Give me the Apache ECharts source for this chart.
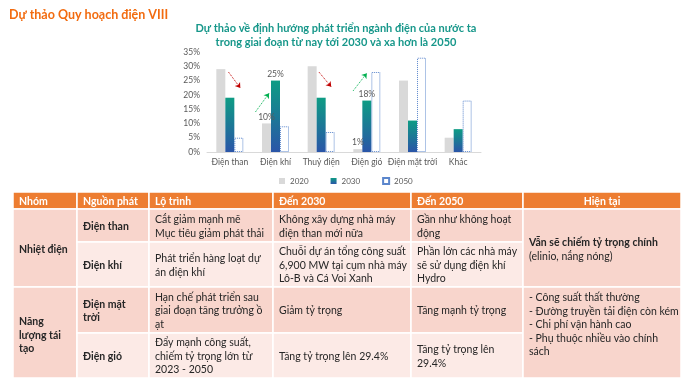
<!DOCTYPE html>
<html><head><meta charset="utf-8">
<script src="https://cdn.jsdelivr.net/npm/echarts@6/dist/echarts.min.js"></script>
<style>html,body{margin:0;padding:0;background:#fff}#c{width:689px;height:390px}</style>
</head><body><div id="c"></div>
<script>
// ---- chart data ----
const categories = ['Điện than', 'Điện khí', 'Thuỷ điện', 'Điện gió', 'Điện mặt trời', 'Khác'];
const s2020 = [29, 10, 30, 1, 25, 5];
const s2030 = [19, 25, 19, 18, 11, 8];
const s2050 = [5, 9, 7, 28, 33, 18];
const labelled2020 = [1, 3];
const labelled2030 = [1, 3];
const seriesNames = ['2020', '2030', '2050'];
// trend arrows in data units: [fromIndex, fromValue, toIndex, toValue]
const arrowsDown = [[-0.03, 28, 0.23, 22.4], [1.95, 28, 2.22, 22.8]];
const arrowsUp = [[0.56, 14, 0.86, 20.6], [2.70, 21.4, 3.00, 27.6]];

// ---- table data ----
const headers = ['Nhóm', 'Nguồn phát', 'Lộ trình', 'Đến 2030', 'Đến 2050', 'Hiện tại'];
const groups = ['Nhiệt điện', 'Năng\nlượng tái\ntạo'];
const sources = ['Điện than', 'Điện khí', 'Điện mặt\ntrời', 'Điện gió'];
const roadmap = ['Cắt giảm mạnh mẽ\nMục tiêu giảm phát thải', 'Phát triển hàng loạt dự\nán điện khí', 'Hạn chế phát triển sau\ngiai đoạn tăng trưởng ồ\nạt', 'Đẩy mạnh công suất,\nchiếm tỷ trọng lớn từ\n2023 - 2050'];
const to2030 = ['Không xây dựng nhà máy\nđiện than mới nữa', 'Chuỗi dự án tổng công suất\n6,900 MW tại cụm nhà máy\nLô-B và Cá Voi Xanh', 'Giảm tỷ trọng', 'Tăng tỷ trọng lên 29.4%'];
const to2050 = ['Gần như không hoạt\nđộng', 'Phần lớn các nhà máy\nsẽ sử dụng điện khí\nHydro', 'Tăng mạnh tỷ trọng', 'Tăng tỷ trọng lên\n29.4%'];
const currentBold = 'Vẫn sẽ chiếm tỷ trọng chính';
const currentNote = '(elinio, nắng nóng)';
const currentRenew = '- Công suất thất thường\n- Đường truyền tải điện còn kém\n- Chi phí vận hành cao\n- Phụ thuộc nhiều vào chính\nsách';

// ---- layout ----
const FONT = 'Lato, "Noto Sans", sans-serif';
const colW = [64, 72, 124, 138, 112, 158];
const rowH = [17, 33, 45, 46, 45];
const tableX = 13, tableY = 192;
const colX = [tableX]; colW.forEach(w => colX.push(colX[colX.length - 1] + w));
const rowY = [tableY]; rowH.forEach(h => rowY.push(rowY[rowY.length - 1] + h));
const C_HEAD = '#ED7D31', C_DARK = '#F8D5CC', C_LIGHT = '#FCEAE6', C_TEXT = '#262626';

const graphics = [];
function cell(r, c, rs, text, opt) {
  opt = opt || {};
  const x = colX[c], y = rowY[r], w = colW[c], h = rowY[r + rs] - y;
  graphics.push({ type: 'rect', shape: { x: x, y: y, width: w, height: h },
    style: { fill: opt.fill, stroke: '#fff', lineWidth: 1.5 }, z: 1 });
  const center = opt.align === 'center';
  const top = opt.vtop !== undefined;
  const st = {
    text: text, fill: opt.color || C_TEXT,
    fontSize: opt.size || 10.5, fontFamily: FONT, fontWeight: opt.bold ? 'bold' : 'normal',
    align: center ? 'center' : 'left', verticalAlign: top ? 'top' : 'middle', lineHeight: 13.5
  };
  if (opt.rich) st.rich = opt.rich;
  graphics.push({ type: 'text', x: center ? x + w / 2 : x + 6, y: top ? y + opt.vtop : y + h / 2 + (opt.dy || 1),
    style: st, z: 2 });
}
headers.forEach((t, i) => cell(0, i, 1, t, { fill: C_HEAD, color: '#fff', bold: true, align: i === 5 ? 'center' : 'left', dy: 0 }));
cell(1, 0, 2, groups[0], { fill: C_DARK, bold: true, dy: 2 });
cell(3, 0, 2, groups[1], { fill: C_DARK, bold: true, dy: 3 });
for (let r = 0; r < 4; r++) {
  const fill = r % 2 === 0 ? C_DARK : C_LIGHT;
  cell(r + 1, 1, 1, sources[r], { fill: fill, bold: true });
  cell(r + 1, 2, 1, roadmap[r], { fill: fill });
  cell(r + 1, 3, 1, to2030[r], { fill: fill });
  cell(r + 1, 4, 1, to2050[r], { fill: fill });
}
cell(1, 5, 2, '{b|' + currentBold + '}\n{n|' + currentNote + '}', { fill: C_DARK, dy: 2,
  rich: { b: { fontWeight: 'bold', fontSize: 10.5, fontFamily: FONT, fill: C_TEXT, lineHeight: 14 },
          n: { fontSize: 10.5, fontFamily: FONT, fill: C_TEXT, lineHeight: 14 } } });
cell(3, 5, 2, currentRenew, { fill: C_DARK, vtop: 4 });

const teal = new echarts.graphic.LinearGradient(0, 0, 0, 1, [
  { offset: 0, color: '#0E9C84' }, { offset: 1, color: '#2A55A8' }]);

function arrowData(list, color) {
  return list.map(a => ({ coords: [[a[0], a[1]], [a[2], a[3]]], lineStyle: { color: color } }));
}
const axisText = { fontSize: 8.5, color: '#595959', fontFamily: FONT };

const chart = echarts.init(document.getElementById('c'), null, { renderer: 'canvas' });
chart.setOption({
  animation: false,
  title: [
    { text: 'Dự thảo Quy hoạch điện VIII', left: 4, top: 3,
      textStyle: { fontSize: 12.5, fontWeight: 'bold', color: '#F26B0F', fontFamily: FONT } },
    { text: 'Dự thảo về định hướng phát triển ngành điện của nước ta\ntrong giai đoạn từ nay tới 2030 và xa hơn là 2050',
      left: 331, textAlign: 'center', top: 16,
      textStyle: { fontSize: 11, fontWeight: 'bold', color: '#17978A', fontFamily: FONT, lineHeight: 14 } }
  ],
  legend: {
    data: seriesNames, left: 279, top: 177, padding: 0, itemWidth: 6, itemHeight: 6, itemGap: 22,
    icon: 'rect', textStyle: { fontSize: 8, color: '#595959', fontFamily: FONT }
  },
  grid: { left: 207, right: 208, top: 52, bottom: 238, containLabel: false },
  xAxis: [
    { type: 'category', data: categories,
      axisLine: { lineStyle: { color: '#D9D9D9' } }, axisTick: { show: false },
      axisLabel: Object.assign({ margin: 6, interval: 0 }, axisText) },
    { type: 'value', min: -0.5, max: 5.5, show: false }
  ],
  yAxis: {
    type: 'value', min: 0, max: 35, interval: 5,
    axisLine: { show: false }, axisTick: { show: false }, splitLine: { show: false },
    axisLabel: Object.assign({ formatter: '{value}%', margin: 7 }, axisText)
  },
  series: [
    { name: '2020', type: 'bar', data: s2020, barWidth: 9, barGap: '0%',
      itemStyle: { color: '#D9D9D9' },
      label: { show: true, position: 'top', distance: 2, fontSize: 8.5, color: '#595959', fontFamily: FONT,
        formatter: p => labelled2020.includes(p.dataIndex) ? p.value + '%' : '' } },
    { name: '2030', type: 'bar', data: s2030, barWidth: 9, barGap: '0%',
      itemStyle: { color: teal },
      label: { show: true, position: 'top', distance: 2, fontSize: 8.5, color: '#595959', fontFamily: FONT,
        formatter: p => labelled2030.includes(p.dataIndex) ? p.value + '%' : '' } },
    { name: '2050', type: 'bar', data: s2050, barWidth: 9, barGap: '0%',
      itemStyle: { color: '#fff', borderColor: '#5B86CC', borderWidth: 1, borderType: 'dotted' } },
    { type: 'lines', coordinateSystem: 'cartesian2d', xAxisIndex: 1, yAxisIndex: 0,
      symbol: ['none', 'arrow'], symbolSize: 5, silent: true,
      lineStyle: { width: 1, type: 'dotted', opacity: 1 },
      data: arrowData(arrowsDown, '#C00000').concat(arrowData(arrowsUp, '#00B050')) }
  ],
  graphic: graphics
});
</script></body></html>
